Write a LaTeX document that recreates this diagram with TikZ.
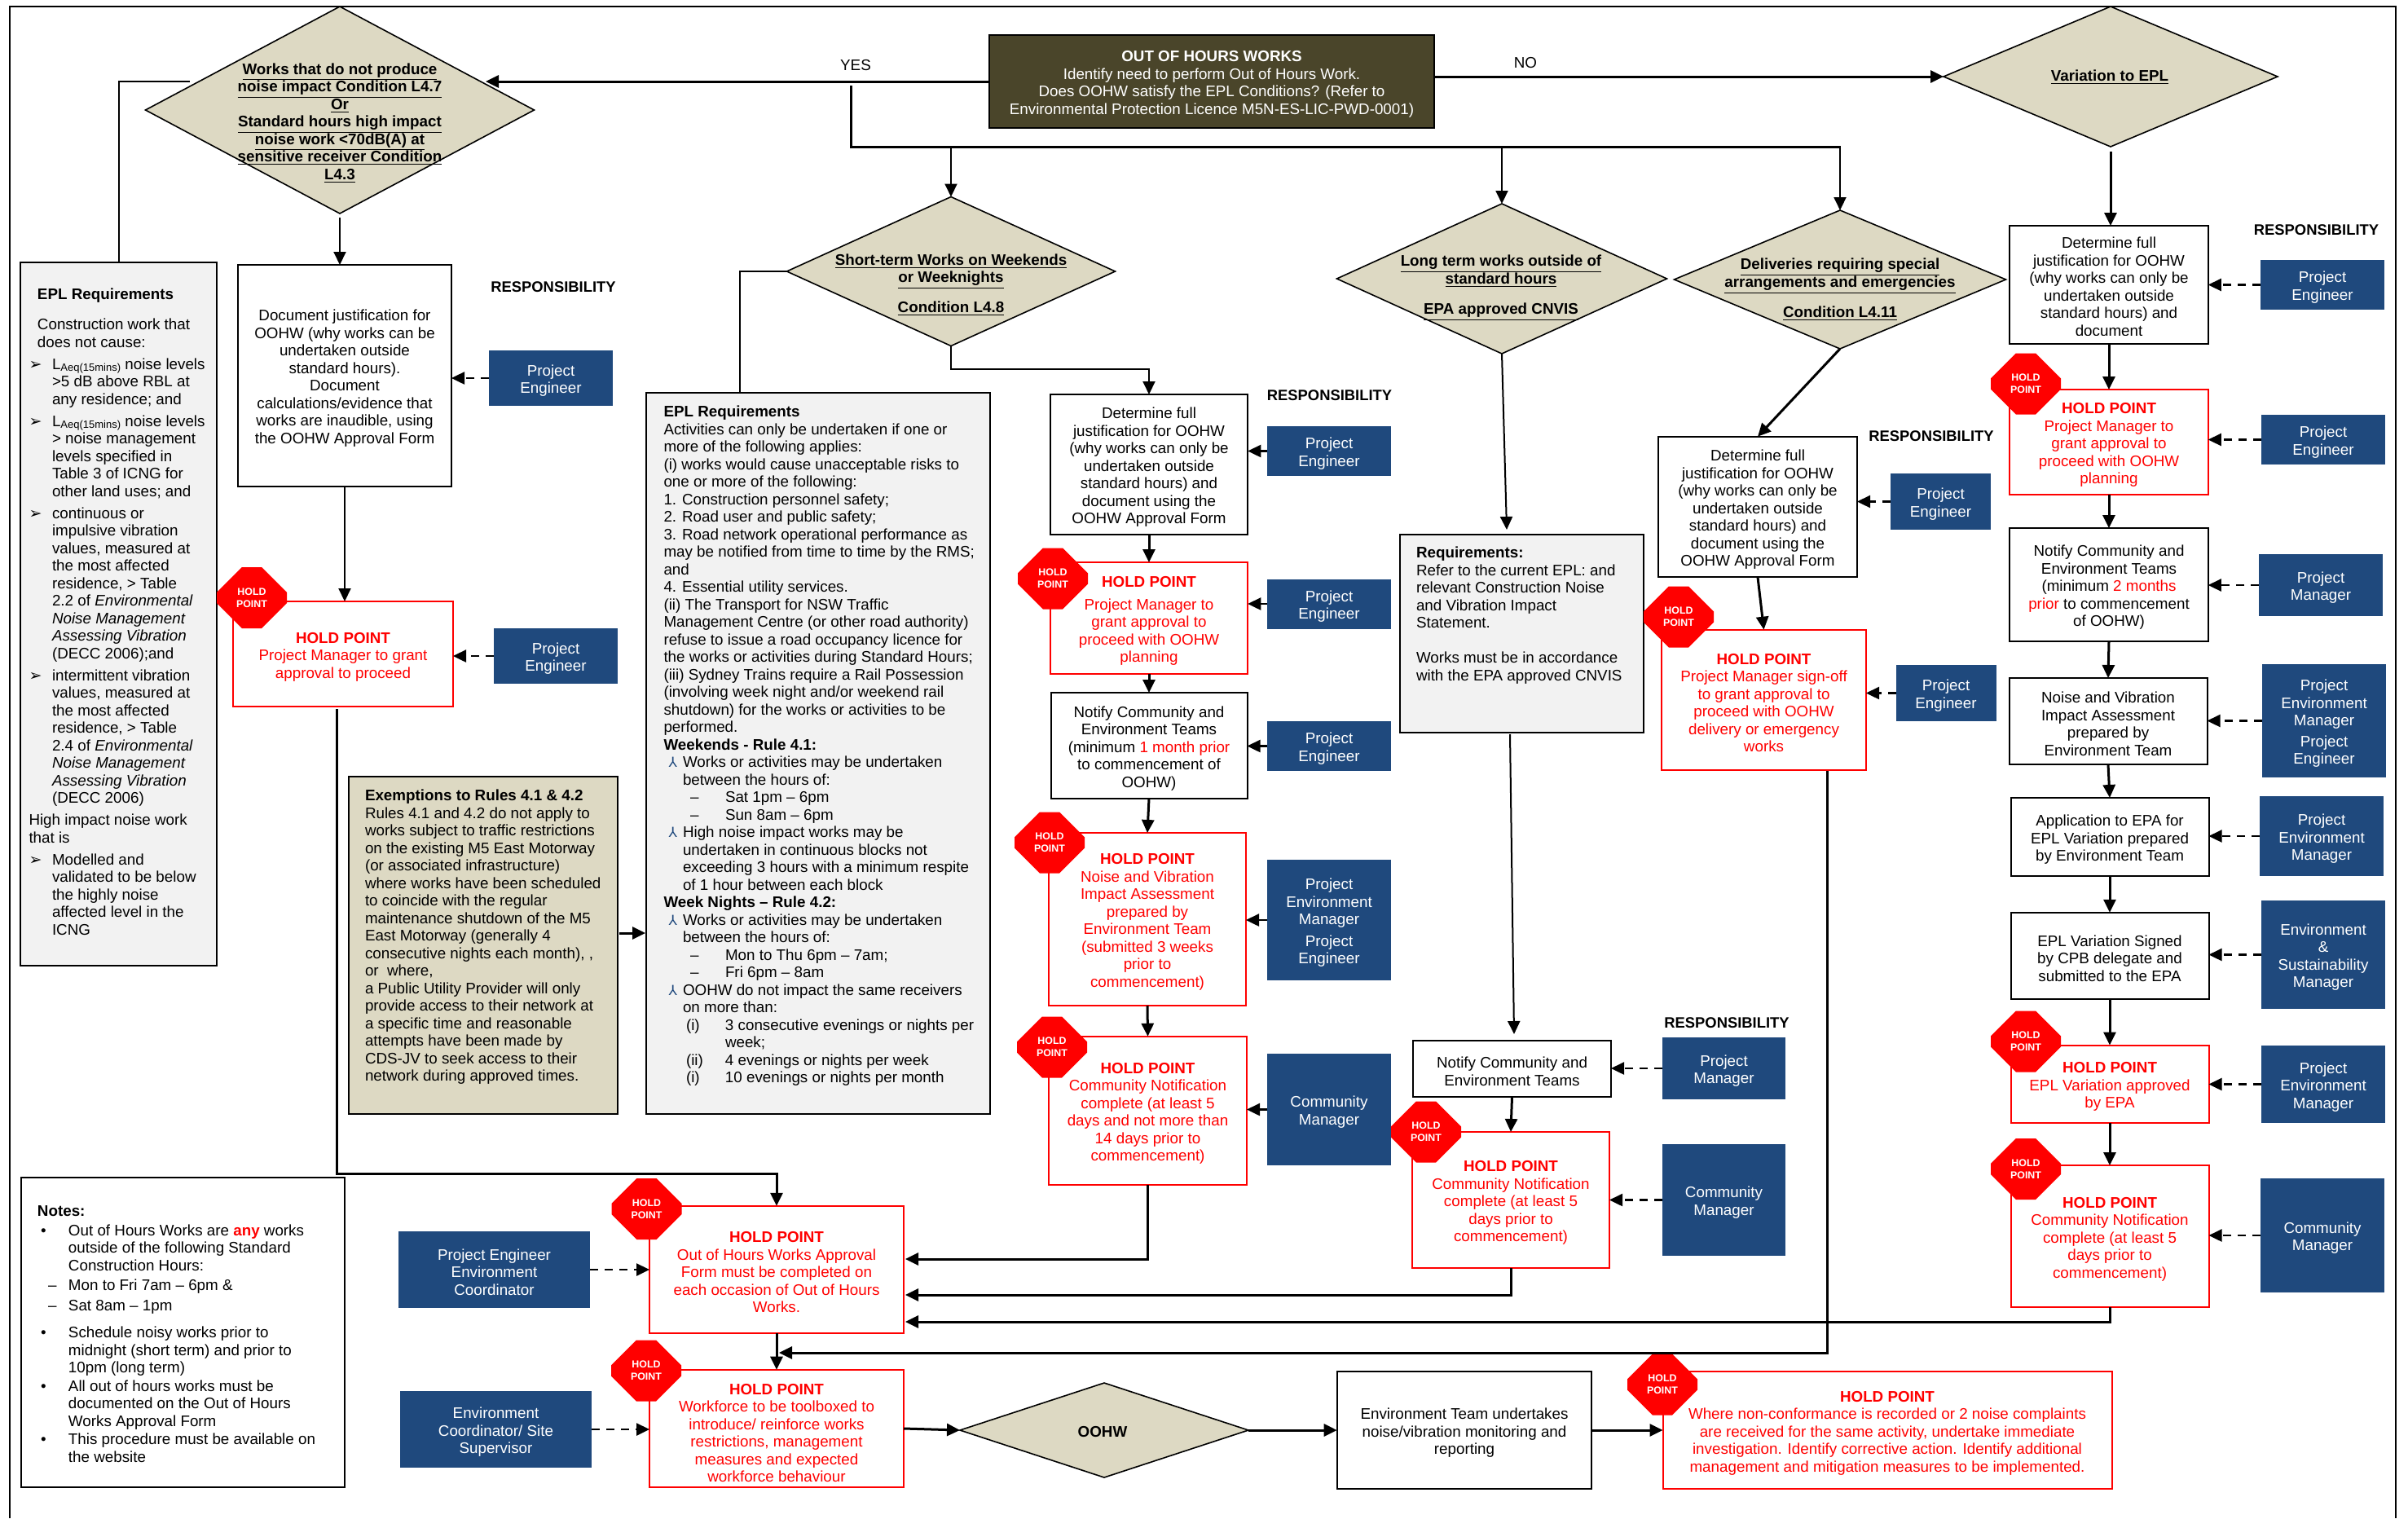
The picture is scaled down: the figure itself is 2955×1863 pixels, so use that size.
\documentclass[tikz,border=0pt]{standalone}
\usepackage{fontspec}
\setmainfont{Liberation Sans}
\newfontfamily\symfont{DejaVu Sans}
\usetikzlibrary{arrows.meta}
\usetikzlibrary{shapes}
\usetikzlibrary{shapes.geometric}
\definecolor{beige}{HTML}{DDD9C3}
\definecolor{olive}{HTML}{4A452A}
\definecolor{navy}{HTML}{1F497D}
\definecolor{grybg}{HTML}{F2F2F2}
\def\pxu{0.5pt}
\newcommand{\ts}{\rule{0pt}{10pt}}
\newcommand{\dl}[1]{\raisebox{0pt}[0pt][0pt]{\underline{\textbf{#1}}}}
\newcommand{\hpt}{\ts\textbf{HOLD POINT}}
\newcommand{\mk}[2]{\makebox[#1][l]{#2}}
\newcommand{\arrb}{{\symfont\fontsize{9.5}{9.5}\selectfont ➢}}
\newcommand{\yb}{{\symfont\fontsize{8.5}{8.5}\selectfont\color{navy}⅄}}
\newcommand{\eaa}{\mk{14.25pt}{}}
\newcommand{\epp}{\mk{14.25pt}{\arrb}}
\newcommand{\maa}{\mk{11.75pt}{}}
\newcommand{\mpp}{\mk{11.75pt}{\hspace{3pt}\yb}}
\newcommand{\mss}[2]{\mk{13.75pt}{}\mk{24pt}{#1}#2}
\newcommand{\mdd}[1]{\mk{16.25pt}{}\mk{21.5pt}{--}#1}

\begin{document}
\begin{tikzpicture}[
  x=\pxu, y=-\pxu,
  every node/.style={
    font=\fontsize{9.4}{10.75}\selectfont,
    align=center,
    inner sep=0pt,
    outer sep=0pt},
  dep/.style={
    -{Triangle[length=8pt,width=7.5pt]},line width=1pt
  },
  depb/.style={
    -{Triangle[length=8pt,width=7.5pt]},line width=1.5pt
  },
  lin/.style={line width=1pt},
  rdep/.style={
    -{Triangle[length=8pt,width=7.5pt]},line width=1.25pt,
    dash pattern=on 5pt off 4pt
  },
  sz/.style 2 args={
    minimum width=#1*\pxu,
    minimum height=#2*\pxu},
  bx/.style 2 args={
    rectangle,
    draw=black,
    line width=1pt,
    fill=white,
    sz={#1}{#2}},
  grybx/.style 2 args={
    rectangle,
    draw=black,
    line width=1pt,
    fill=grybg,
    sz={#1}{#2}},
  hpb/.style 2 args={
    rectangle,
    draw=red,
    line width=1pt,
    fill=white,
    text=red,
    sz={#1}{#2}},
  rsp/.style 2 args={
    rectangle,
    fill=navy,
    text=white,
    sz={#1}{#2}},
  dmd/.style 2 args={
    diamond,
    draw=black,
    line width=0.8pt,
    fill=beige,
    sz={#1}{#2}},
  stp/.style={
    chamfered rectangle,
    chamfered rectangle xsep=11pt,
    chamfered rectangle ysep=10pt,
    fill=red,
    text=white,
    font=\fontsize{6.2}{7.5}\selectfont\bfseries,
    minimum width=43pt,
    minimum height=37.5pt},
  lft/.style={anchor=north west, align=left},
  rhd/.style={font=\fontsize{9.2}{10.75}\selectfont\bfseries},
]

  \useasboundingbox (0,0) rectangle (2955,1863);

  % frame
  \coordinate (frm_a) at (12,1863);
  \coordinate (frm_b) at (2940,8);
  \draw[line width=1pt] (frm_a) |- (frm_b) -- (frm_b |- frm_a);

  % top row
  \node[rectangle,draw=black,line width=1pt,fill=olive,text=white,sz={546}{114}] (ttl)
      at (1487,100)
      {\ts\textbf{OUT OF HOURS WORKS}\\Identify need to perform Out of Hours Work.\\
       Does OOHW satisfy the EPL Conditions? (Refer to\\
       Environmental Protection Licence M5N-ES-LIC-PWD-0001)};
  \node (yes_txt) at (1050,80) {YES};
  \node (no_txt) at (1872,77) {NO};

  \node[dmd={477}{254}] (dm_a) at (417,135) {};
  \node (dm_a_txt) at (417,155.5)
      {\dl{Works that do not produce}\\\dl{noise impact Condition L4.7}\\\dl{Or}\\
       \dl{Standard hours high impact}\\\dl{noise work <70dB(A) at}\\
       \dl{sensitive receiver Condition}\\\dl{L4.3}};

  \node[dmd={410}{172}] (dm_v) at (2590,94) {};
  \node (dm_v_txt) at (2589,99) {\dl{Variation to EPL}};

  \node[dmd={403}{183}] (dm_s) at (1167,333) {};
  \node (dm_s_txt) at (1167,354.5)
      {\dl{Short-term Works on Weekends}\\\dl{or Weeknights}\\[7.75pt]\dl{Condition L4.8}};

  \node[dmd={405}{184}] (dm_l) at (1843,342) {};
  \node (dm_l_txt) at (1842,356)
      {\dl{Long term works outside of}\\\dl{standard hours}\\[7.75pt]\dl{EPA approved CNVIS}};

  \node[dmd={407}{170}] (dm_d) at (2258,343) {};
  \node (dm_d_txt) at (2258,360)
      {\dl{Deliveries requiring special}\\\dl{arrangements and emergencies}\\[7.75pt]\dl{Condition L4.11}};

  % first column
  \node[grybx={241}{863}] (epl_a) at (145.5,753.5) {};
  \node[lft] (epl_a_txt) at (35.5,354)
      {\mk{5.25pt}{}\textbf{EPL Requirements}\\[7.75pt]
       \mk{5.25pt}{}Construction work that\\
       \mk{5.25pt}{}does not cause:\\[2.75pt]
       \epp L{\fontsize{6.5}{6.5}\selectfont\raisebox{-1.2pt}{Aeq(15mins)}} noise levels\\
       \eaa >5 dB above RBL at\\
       \eaa any residence; and\\[2.75pt]
       \epp L{\fontsize{6.5}{6.5}\selectfont\raisebox{-1.2pt}{Aeq(15mins)}} noise levels\\
       \eaa > noise management\\
       \eaa levels specified in\\
       \eaa Table 3 of ICNG for\\
       \eaa other land uses; and\\[2.75pt]
       \epp continuous or\\
       \eaa impulsive vibration\\
       \eaa values, measured at\\
       \eaa the most affected\\
       \eaa residence, > Table\\
       \eaa 2.2 of \textit{Environmental}\\
       \eaa \textit{Noise Management}\\
       \eaa \textit{Assessing Vibration}\\
       \eaa (DECC 2006);and\\[2.75pt]
       \epp intermittent vibration\\
       \eaa values, measured at\\
       \eaa the most affected\\
       \eaa residence, > Table\\
       \eaa 2.4 of \textit{Environmental}\\
       \eaa \textit{Noise Management}\\
       \eaa \textit{Assessing Vibration}\\
       \eaa (DECC 2006)\\[2.75pt]
       High impact noise work\\
       that is\\[2.75pt]
       \epp Modelled and\\
       \eaa validated to be below\\
       \eaa the highly noise\\
       \eaa affected level in the\\
       \eaa ICNG};

  \node[bx={262}{272}] (doc) at (423,461)
      {\ts Document justification for\\OOHW (why works can be\\undertaken outside\\
       standard hours).\\Document\\calculations/evidence that\\works are inaudible, using\\
       the OOHW Approval Form};
  \node[rhd] (rsp_a) at (679,352) {RESPONSIBILITY};
  \node[rsp={152}{68}] (re_a) at (676,464) {\ts Project\\Engineer};

  \node[hpb={270}{129}] (r_1) at (421,802.5)
      {\hpt\\Project Manager to grant\\approval to proceed};
  \node[rsp={152}{68}] (re_b) at (682,805) {\ts Project\\Engineer};

  % exemptions
  \node[rectangle,draw=black,line width=1pt,fill=beige,sz={330}{414}] (exm) at (593,1160) {};
  \node[lft] (exm_txt) at (448,969)
      {\textbf{Exemptions to Rules 4.1 \& 4.2}\\
       Rules 4.1 and 4.2 do not apply to\\
       works subject to traffic restrictions\\
       on the existing M5 East Motorway\\
       (or associated infrastructure)\\
       where works have been scheduled\\
       to coincide with the regular\\
       maintenance shutdown of the M5\\
       East Motorway (generally 4\\
       consecutive nights each month), ,\\
       or\ \ where,\\
       a Public Utility Provider will only\\
       provide access to their network at\\
       a specific time and reasonable\\
       attempts have been made by\\
       CDS-JV to seek access to their\\
       network during approved times.};

  % short term requirements
  \node[grybx={422}{885}] (epl_b) at (1004,924.5) {};
  \node[lft] (epl_b_txt) at (814.5,498)
      {\textbf{EPL Requirements}\\
       Activities can only be undertaken if one or\\
       more of the following applies:\\
       (i) works would cause unacceptable risks to\\
       one or more of the following:\\
       1. Construction personnel safety;\\
       2. Road user and public safety;\\
       3. Road network operational performance as\\
       may be notified from time to time by the RMS;\\
       and\\
       4. Essential utility services.\\
       (ii) The Transport for NSW Traffic\\
       Management Centre (or other road authority)\\
       refuse to issue a road occupancy licence for\\
       the works or activities during Standard Hours;\\
       (iii) Sydney Trains require a Rail Possession\\
       (involving week night and/or weekend rail\\
       shutdown) for the works or activities to be\\
       performed.\\
       \textbf{Weekends - Rule 4.1:}\\
       \mpp Works or activities may be undertaken\\
       \maa between the hours of:\\
       \mdd{Sat 1pm -- 6pm}\\
       \mdd{Sun 8am -- 6pm}\\
       \mpp High noise impact works may be\\
       \maa undertaken in continuous blocks not\\
       \maa exceeding 3 hours with a minimum respite\\
       \maa of 1 hour between each block\\
       \textbf{Week Nights -- Rule 4.2:}\\
       \mpp Works or activities may be undertaken\\
       \maa between the hours of:\\
       \mdd{Mon to Thu 6pm -- 7am;}\\
       \mdd{Fri 6pm -- 8am}\\
       \mpp OOHW do not impact the same receivers\\
       \maa on more than:\\
       \mss{(i)}{3 consecutive evenings or nights per}\\
       \mss{}{week;}\\
       \mss{(ii)}{4 evenings or nights per week}\\
       \mss{(i)}{10 evenings or nights per month}};

  % short term column
  \node[bx={242.5}{172}] (c_1) at (1410,570)
      {\ts Determine full\\justification for OOHW\\(why works can only be\\undertaken outside\\
       standard hours) and\\document using the\\OOHW Approval Form};
  \node[hpb={242.5}{137}] (c_2) at (1410,758.5)
      {\hpt\\[3pt]Project Manager to\\grant approval to\\proceed with OOHW\\planning};
  \node[bx={241}{130}] (c_3) at (1410,915)
      {\ts Notify Community and\\Environment Teams\\
       (minimum \textcolor{red}{1 month prior}\\to commencement of\\OOHW)};
  \node[hpb={242}{212}] (c_4) at (1408,1128)
      {\hpt\\Noise and Vibration\\Impact Assessment\\prepared by\\Environment Team\\
       (submitted 3 weeks\\prior to\\commencement)};
  \node[hpb={243}{182.5}] (c_5) at (1408.5,1363)
      {\hpt\\Community Notification\\complete (at least 5\\days and not more than\\
       14 days prior to\\commencement)};
  \node[rhd] (rsp_c) at (1631.5,485) {RESPONSIBILITY};
  \node[rsp={152}{61}] (re_c) at (1631,553.5) {\ts Project\\Engineer};
  \node[rsp={152}{61}] (re_d) at (1631,741) {\ts Project\\Engineer};
  \node[rsp={152}{61}] (re_e) at (1631,915.5) {\ts Project\\Engineer};
  \node[rsp={152}{148}] (re_f) at (1631,1129)
      {\ts Project\\Environment\\Manager\\[2.5pt]Project\\Engineer};
  \node[rsp={152}{137}] (re_g) at (1631,1361.5) {\ts Community\\Manager};

  % long term column
  \node[grybx={299}{243}] (req) at (1867.5,777.5) {};
  \node[lft] (req_txt) at (1738,671)
      {\textbf{Requirements:}\\
       Refer to the current EPL: and\\
       relevant Construction Noise\\
       and Vibration Impact\\
       Statement.\\[10.75pt]
       Works must be in accordance\\
       with the EPA approved CNVIS};
  \node[bx={243}{69}] (l_1) at (1855.5,1311.5) {\ts Notify Community and\\Environment Teams};
  \node[hpb={242}{167}] (l_2) at (1854,1472.5)
      {\hpt\\Community Notification\\complete (at least 5\\days prior to\\commencement)};
  \node[rhd] (rsp_l) at (2119,1255.5) {RESPONSIBILITY};
  \node[rsp={151}{76}] (re_h) at (2115.5,1311) {\ts Project\\Manager};
  \node[rsp={151}{137}] (re_i) at (2115.5,1472.5) {\ts Community\\Manager};

  % deliveries column
  \node[bx={244}{172.6}] (d_1) at (2157,622)
      {\ts Determine full\\justification for OOHW\\(why works can only be\\undertaken outside\\
       standard hours) and\\document using the\\OOHW Approval Form};
  \node[hpb={251}{172.6}] (d_2) at (2164.5,859)
      {\hpt\\Project Manager sign-off\\to grant approval to\\proceed with OOHW\\
       delivery or emergency\\works};
  \node[rhd] (rsp_d) at (2370,535) {RESPONSIBILITY};
  \node[rsp={123}{69}] (re_j) at (2381.5,615.5) {\ts Project\\Engineer};
  \node[rsp={123}{69}] (re_k) at (2388,850.5) {\ts Project\\Engineer};

  % variation column
  \node[bx={243.5}{145}] (v_1) at (2588,349.5) {};
  \begin{scope}
    \clip (2466,277) rectangle (2710,411);
    \node (v_1_txt) at (2588,352)
        {Determine full\\justification for OOHW\\(why works can only be\\undertaken outside\\
         standard hours) and\\document};
  \end{scope}
  \node[hpb={243.5}{129}] (v_2) at (2588,542.5)
      {\hpt\\Project Manager to\\grant approval to\\proceed with OOHW\\planning};
  \node[bx={243.5}{139}] (v_3) at (2588,717.5)
      {\ts Notify Community and\\Environment Teams\\(minimum \textcolor{red}{2 months}\\
       \textcolor{red}{prior} to commencement\\of OOHW)};
  \node[bx={243}{106}] (v_4) at (2587,885)
      {\ts Noise and Vibration\\Impact Assessment\\prepared by\\Environment Team};
  \node[bx={243}{96}] (v_5) at (2589,1027)
      {\ts Application to EPA for\\EPL Variation prepared\\by Environment Team};
  \node[bx={243}{106.5}] (v_6) at (2589,1173)
      {\ts EPL Variation Signed\\by CPB delegate and\\submitted to the EPA};
  \node[hpb={243}{95}] (v_7) at (2589,1330)
      {\hpt\\EPL Variation approved\\by EPA};
  \node[hpb={243}{174}] (v_8) at (2589,1517)
      {\hpt\\Community Notification\\complete (at least 5\\days prior to\\commencement)};
  \node[rhd] (rsp_v) at (2842.5,282) {RESPONSIBILITY};
  \node[rsp={152}{61}] (re_l) at (2850,349.5) {\ts Project\\Engineer};
  \node[rsp={152}{61}] (re_m) at (2851,539.5) {\ts Project\\Engineer};
  \node[rsp={152}{76}] (re_n) at (2848,718) {\ts Project\\Manager};
  \node[rsp={152}{139}] (re_o) at (2852,884.5)
      {\ts Project\\Environment\\Manager\\[2pt]Project\\Engineer};
  \node[rsp={152}{98}] (re_p) at (2849,1026) {\ts Project\\Environment\\Manager};
  \node[rsp={152}{133}] (re_q) at (2851,1171.5) {\ts Environment\\\&\\Sustainability\\Manager};
  \node[rsp={152}{95}] (re_r) at (2851,1330.5) {\ts Project\\Environment\\Manager};
  \node[rsp={152}{140}] (re_s) at (2850,1516) {\ts Community\\Manager};

  % bottom row
  \node[bx={397}{380}] (nts) at (224.5,1635) {};
  \node[lft] (nts_txt) at (46,1480)
      {\textbf{Notes:}\\[1pt]
       \mk{19pt}{\hspace{2pt}•}Out of Hours Works are \textcolor{red}{\textbf{any}} works\\
       \mk{19pt}{}outside of the following Standard\\
       \mk{19pt}{}Construction Hours:\\[1.5pt]
       \mk{6.5pt}{}\mk{12.5pt}{--}Mon to Fri 7am -- 6pm \&\\[1.5pt]
       \mk{6.5pt}{}\mk{12.5pt}{--}Sat 8am -- 1pm\\[6pt]
       \mk{19pt}{\hspace{2pt}•}Schedule noisy works prior to\\
       \mk{19pt}{}midnight (short term) and prior to\\
       \mk{19pt}{}10pm (long term)\\[0.5pt]
       \mk{19pt}{\hspace{2pt}•}All out of hours works must be\\
       \mk{19pt}{}documented on the Out of Hours\\
       \mk{19pt}{}Works Approval Form\\[0.5pt]
       \mk{19pt}{\hspace{2pt}•}This procedure must be available on\\
       \mk{19pt}{}the website};

  \node[hpb={312}{156.5}] (r_2) at (953,1558)
      {\hpt\\Out of Hours Works Approval\\Form must be completed on\\
       each occasion of Out of Hours\\Works.};
  \node[hpb={312}{144.6}] (r_3) at (953,1753) {};
  \begin{scope}
    \clip (790,1675) rectangle (1115,1818);
    \node[text=red] (r_3_txt) at (953,1755)
        {\hpt\\Workforce to be toolboxed to\\introduce/ reinforce works\\
         restrictions, management\\measures and expected\\workforce behaviour};
  \end{scope}
  \node[rsp={235}{94.5}] (re_t) at (606.5,1558) {\ts Project Engineer\\Environment\\Coordinator};
  \node[rsp={235}{94}] (re_u) at (608.5,1754) {\ts Environment\\Coordinator/ Site\\Supervisor};

  \node[dmd={354}{116}] (dm_o) at (1355,1755) {};
  \node (dm_o_txt) at (1353,1757) {\textbf{OOHW}};
  \node[bx={312.6}{143.6}] (env) at (1797,1755)
      {\ts Environment Team undertakes\\noise/vibration monitoring and\\reporting};
  \node[hpb={551}{143.6}] (r_4) at (2316,1755)
      {\hpt\\Where non-conformance is recorded or 2 noise complaints\\
       are received for the same activity, undertake immediate\\
       investigation. Identify corrective action. Identify additional\\
       management and mitigation measures to be implemented.};

  % stop signs
  \foreach \n/\x/\y in {a/309/733.5,b/1292/710,c/1288/1034,d/1291/1285,e/1750/1389,
                        f/2060/757,g/2486/471,h/2486/1278,i/2486/1434.5,j/793.5/1483.5,
                        k/793/1682,l/2040/1699}
      \node[stp] (hp_\n) at (\x,\y) {HOLD\\POINT};

  % free ends
  \coordinate (dm_a_in) at (596,100);
  \coordinate (dm_a_l) at (233,100);
  \coordinate (bus_s) at (1044,105);
  \coordinate (bus_e) at (2259,180);
  \coordinate (epl_b_t) at (908,482);
  \coordinate (c_1_t) at (1410,453);
  \coordinate (req_t) at (1849,650);
  \coordinate (req_o) at (1853,901);
  \coordinate (l_1_t) at (1858,1269);
  \coordinate (d_2_o) at (2242,946);
  \coordinate (r_1_o) at (413,870);
  \coordinate (r_2_t) at (953,1440);
  \coordinate (r_2_a) at (1111,1545);
  \coordinate (r_2_b) at (1111,1589);
  \coordinate (r_2_c) at (1111,1622);
  \coordinate (r_2_d) at (956,1660);
  \coordinate (exm_o) at (792,1145);

  % connectors
  \draw[depb] (ttl.west |- dm_a_in) -- (dm_a_in);
  \draw[depb] (ttl.east |- dm_v.west) -- (dm_v.west);
  \draw[lin] (dm_a_l) -| (epl_a.north);
  \draw[dep,shorten <=2.5pt] (dm_a.south) -- (dm_a.south |- doc.north);
  \draw[dep] (doc.south) -- (doc.south |- r_1.north);

  \draw[depb,-] (bus_s) |- (bus_e);
  \draw[dep] (dm_s.north |- bus_e) -- (dm_s.north);
  \draw[dep] (dm_l.north |- bus_e) -- (dm_l.north);
  \draw[dep] (dm_d.north |- bus_e) -- (dm_d.north);
  \draw[depb,shorten <=3pt] (dm_v.south) -- (dm_v.south |- v_1.north);

  \draw[lin] (dm_s.west) -| (epl_b_t);
  \draw[dep] (dm_s.south) |- (c_1_t) -- (c_1.north);
  \draw[dep] (dm_l.south) -- (req_t);
  \draw[dep] (req_o) -- (l_1_t);
  \draw[depb] (dm_d.south) -- (d_1.north);
  \draw[depb] (exm.east |- exm_o) ++(2,0) -- (exm_o);

  \foreach \a/\b in {c_1/c_2,c_2/c_3,c_3/c_4,c_4/c_5,l_1/l_2,d_1/d_2,
                     v_1/v_2,v_2/v_3,v_3/v_4,v_4/v_5,v_5/v_6,v_6/v_7,v_7/v_8,r_2/r_3}
      \draw[depb] (\a.south) -- (\b.north);

  % from the responsibility boxes
  \foreach \a/\b in {re_a/doc,re_b/r_1,re_c/c_1,re_d/c_2,re_e/c_3,re_f/c_4,re_g/c_5,
                     re_h/l_1,re_i/l_2,re_j/d_1,re_k/d_2,re_l/v_1,re_m/v_2,re_n/v_3,
                     re_o/v_4,re_p/v_5,re_q/v_6,re_r/v_7,re_s/v_8}
      \draw[rdep] (\a.west) -- (\a.west -| \b.east);
  \draw[rdep] (re_t.east) -- (re_t.east -| r_2.west);
  \draw[rdep] (re_u.east) -- (re_u.east -| r_3.west);

  % into the approval box
  \draw[depb] (r_1_o) |- (r_2_t) -- (r_2.north);
  \draw[depb] (c_5.south) |- (r_2_a);
  \draw[depb] (l_2.south) |- (r_2_b);
  \draw[depb] (v_8.south) |- (r_2_c);
  \draw[depb] (d_2_o) |- (r_2_d);

  % bottom row
  \draw[depb] (r_3.east) -- (dm_o.west);
  \draw[depb] (dm_o.east) -- (env.west);
  \draw[depb] (env.east) -- (r_4.west);

\end{tikzpicture}
\end{document}
